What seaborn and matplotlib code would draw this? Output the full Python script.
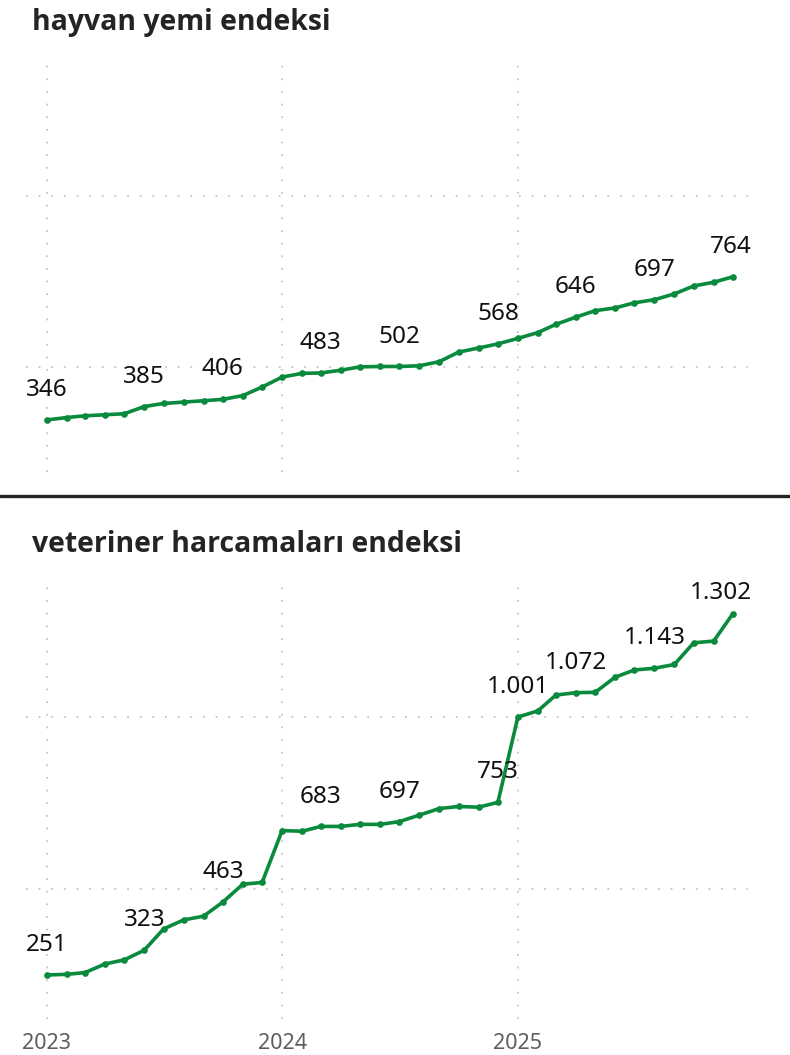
import matplotlib
matplotlib.use("Agg")
import matplotlib.pyplot as plt
from matplotlib.lines import Line2D
import seaborn as sns
import pandas as pd

# ---- data ----
months = pd.date_range("2023-01-01", periods=36, freq="MS")
hayvan_yemi = [346, 353, 358, 361, 364, 385, 394, 398, 402, 406, 417, 442,
               471, 482, 483, 491, 501, 502, 502, 504, 516, 544, 556, 568,
               584, 601, 625, 646, 665, 673, 688, 697, 714, 737, 748, 764]
veteriner = [251, 253, 258, 283, 295, 323, 385, 411, 422, 463, 515, 520,
             671, 669, 683, 683, 689, 689, 697, 716, 735, 741, 739, 753,
             1001, 1019, 1065, 1072, 1073, 1117, 1138, 1143, 1154, 1217, 1222, 1302]
hayvan_label_idx = [0, 5, 9, 14, 18, 23, 27, 31, 35]
veteriner_label_idx = [0, 5, 9, 14, 18, 23, 24, 27, 31, 35]
year_ticks = pd.to_datetime(["2023-01-01", "2024-01-01", "2025-01-01"])
year_labels = ["2023", "2024", "2025"]
titles = ["hayvan yemi endeksi", "veteriner harcamaları endeksi"]
grid_values = [500, 1000]

# ---- style ----
sns.set_theme(style="white")
plt.rcParams["font.family"] = ["Noto Sans", "DejaVu Sans"]

GREEN = "#0a8a3c"
TITLE_C = "#252423"
GRID_C = "#c8c6c4"

W, H = 790, 1055
DPI = 100
fig = plt.figure(figsize=(W / DPI, H / DPI), dpi=DPI)

def px_axes(x0, y0, x1, y1):
    return fig.add_axes([x0 / W, 1 - y1 / H, (x1 - x0) / W, (y1 - y0) / H])

ax_top = px_axes(26, 61.7, 748, 472.3)
ax_bot = px_axes(26, 584, 748, 1019)

def fmt(v):
    return f"{v:,}".replace(",", ".")

panels = [
    (ax_top, hayvan_yemi, hayvan_label_idx, (193, 1392), False),
    (ax_bot, veteriner, veteriner_label_idx, (123, 1388), True),
]

annotations = []
for ax, vals, lab_idx, ylim, show_x in panels:
    df = pd.DataFrame({"month": months, "value": vals})
    sns.lineplot(data=df, x="month", y="value", ax=ax, color=GREEN,
                 linewidth=2.6, marker="o", markersize=4.8,
                 markeredgewidth=0, markerfacecolor=GREEN)
    for i in lab_idx:
        ann = ax.annotate(fmt(vals[i]), (months[i], vals[i]), xytext=(0, 21.5),
                          textcoords="offset points", ha="center", va="center",
                          fontsize=17.5, color="#111111", annotation_clip=False)
        annotations.append((ax, ann))
    ax.set_xlim(months[0] - pd.Timedelta(days=32.6),
                months[-1] + pd.Timedelta(days=23.3))
    ax.set_ylim(*ylim)
    ax.set_yticks(grid_values)
    ax.set_yticklabels([])
    ax.set_xticks(year_ticks)
    if show_x:
        ax.set_xticklabels(year_labels)
    else:
        ax.set_xticklabels([])
    ax.tick_params(axis="both", length=0)
    ax.tick_params(axis="x", pad=10, labelsize=15.5, labelcolor="#605e5c")
    ax.set_xlabel("")
    ax.set_ylabel("")
    ax.grid(True, linestyle=(0, (1, 6)), color=GRID_C, linewidth=1.3)
    for s in ax.spines.values():
        s.set_visible(False)
    ax.set_facecolor("none")

for title, base in zip(titles, [30, 552]):
    fig.text(32 / W, 1 - base / H, title, fontsize=20.4, fontweight="bold",
             family=["Open Sans", "Lato", "DejaVu Sans"],
             color=TITLE_C, ha="left", va="baseline")

fig.add_artist(Line2D([0, 1], [1 - 496 / H, 1 - 496 / H],
                      transform=fig.transFigure, color=TITLE_C, linewidth=2.4))

# keep data labels inside the visual area (like the source renderer)
fig.canvas.draw()
renderer = fig.canvas.get_renderer()
for ax, ann in annotations:
    bb = ann.get_window_extent(renderer)
    ab = ax.get_window_extent(renderer)
    dx = min(0.0, (ab.x1 + 4) - bb.x1)
    dy = min(0.0, (ab.y1 + 3) - bb.y1)
    if dx or dy:
        ox, oy = ann.xyann
        ann.xyann = (ox + dx * 72 / DPI, oy + dy * 72 / DPI)

fig.savefig("out.png", dpi=DPI)
